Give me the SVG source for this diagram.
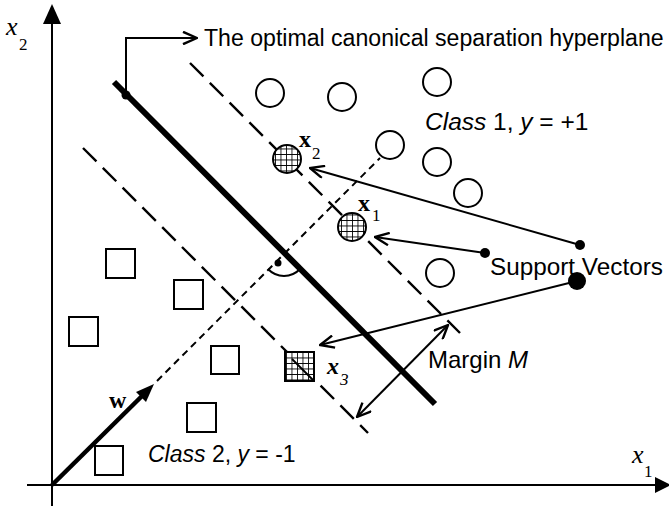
<svg xmlns="http://www.w3.org/2000/svg" width="669" height="506" viewBox="0 0 669 506">
<style>
.ln{stroke:#000;stroke-width:2;fill:none}
.c1{fill:#fff;stroke:#000;stroke-width:2}
.sq{fill:#fff;stroke:#000;stroke-width:2}
.hatch{fill:url(#grid);stroke:#000;stroke-width:2}
.sans{font-family:"Liberation Sans",Arial,sans-serif;fill:#000}
.ser{font-family:"Liberation Serif","Times New Roman",serif;fill:#000}
.dash{stroke:#000;stroke-width:2.4;stroke-dasharray:19 9;fill:none}
.sdash{stroke:#000;stroke-width:2;stroke-dasharray:7 5;fill:none}
</style>
<defs>
<pattern id="grid" patternUnits="userSpaceOnUse" width="5.5" height="5.5">
<rect width="5.5" height="5.5" fill="#fff"/>
<path d="M0,0 V5.5 M0,0 H5.5" stroke="#000" stroke-width="1.7"/>
</pattern>
<marker id="open" viewBox="0 0 16 14" refX="15" refY="7" markerWidth="16" markerHeight="14" markerUnits="userSpaceOnUse" orient="auto-start-reverse">
<path d="M1,0.8 L15,7 L1,13.2" fill="none" stroke="#000" stroke-width="2.4"/>
</marker>
</defs>

<!-- axes -->
<g id="axes">
<line x1="52" y1="20" x2="52" y2="506" class="ln"/>
<polygon points="52,4 43,24 61,24" fill="#000"/>
<line x1="27" y1="485" x2="658" y2="485" class="ln"/>
<polygon points="671,485 655,477 655,493" fill="#000"/>
<text class="ser" x="6" y="35" font-size="26" font-style="italic">x</text>
<text class="ser" x="19" y="50" font-size="17">2</text>
<text class="ser" x="632" y="463" font-size="26" font-style="italic">x</text>
<text class="ser" x="644" y="477" font-size="17">1</text>
</g>

<!-- margin lines and hyperplane -->
<g id="margins">
<line x1="190" y1="63" x2="460" y2="333" class="dash"/>
<line x1="83" y1="148" x2="368" y2="433" class="dash"/>
</g>
<g id="hyperplane">
<line x1="114" y1="82" x2="435" y2="404" stroke="#000" stroke-width="6"/>
<path d="M268,269 A22,22 0 0 0 300,269" class="ln"/>
<circle cx="278" cy="263" r="3.5" fill="#000"/>
</g>

<!-- class 1 circles -->
<g id="class1">
<circle cx="270" cy="93" r="14" class="c1"/>
<circle cx="342" cy="97" r="14" class="c1"/>
<circle cx="437" cy="82" r="14" class="c1"/>
<circle cx="390" cy="145" r="14" class="c1"/>
<circle cx="437" cy="162" r="14" class="c1"/>
<circle cx="468" cy="193" r="14" class="c1"/>
<circle cx="440" cy="273" r="14" class="c1"/>
<text class="sans" x="425" y="130" font-size="24.5"><tspan font-style="italic">Class</tspan> 1, <tspan font-style="italic">y</tspan> = +1</text>
</g>

<!-- class 2 squares -->
<g id="class2">
<rect x="106" y="249" width="29" height="29" class="sq"/>
<rect x="174" y="280" width="29" height="29" class="sq"/>
<rect x="69" y="317" width="29" height="29" class="sq"/>
<rect x="211" y="346" width="28" height="28" class="sq"/>
<rect x="187" y="403" width="29" height="29" class="sq"/>
<rect x="95" y="446" width="28" height="29" class="sq"/>
<text class="sans" x="148" y="462" font-size="23"><tspan font-style="italic">Class</tspan> 2, <tspan font-style="italic">y</tspan> = -1</text>
</g>

<!-- support vectors -->
<g id="x2">
<circle cx="287" cy="159" r="14" class="hatch"/>
<text class="ser" x="299" y="147" font-size="24" font-weight="bold">x</text>
<text class="ser" x="312" y="159" font-size="17">2</text>
</g>
<g id="x1">
<circle cx="352" cy="227" r="14" class="hatch"/>
<text class="ser" x="358" y="211" font-size="24" font-weight="bold">x</text>
<text class="ser" x="372" y="221" font-size="17">1</text>
</g>
<g id="x3">
<rect x="285" y="352" width="29" height="29" class="hatch"/>
<line x1="292" y1="359" x2="314" y2="381" stroke="#000" stroke-width="2"/>
<text class="ser" x="327" y="374" font-size="24" font-weight="bold" font-style="italic">x</text>
<text class="ser" x="340" y="385" font-size="17" font-style="italic">3</text>
</g>

<!-- labels -->
<g id="label-hyperplane">
<text class="sans" x="204" y="46" font-size="23.1">The optimal canonical separation hyperplane</text>
</g>
<g id="label-sv">
<text class="sans" x="490" y="275" font-size="24.3">Support Vectors</text>
</g>
<g id="label-margin">
<text class="sans" x="428" y="368" font-size="24">Margin <tspan font-style="italic">M</tspan></text>
</g>
<g id="label-w">
<text class="ser" x="109" y="408" font-size="24" font-weight="bold">w</text>
</g>

<!-- connectors -->
<g id="connectors">
<polyline points="126,95 126,38 197,38" class="ln" marker-end="url(#open)"/>
<circle cx="126" cy="95" r="4.5" fill="#000"/>
<line x1="580" y1="245" x2="310" y2="168" class="ln" marker-end="url(#open)"/>
<circle cx="580" cy="245" r="5" fill="#000"/>
<line x1="485" y1="253" x2="375" y2="237" class="ln" marker-end="url(#open)"/>
<circle cx="485" cy="253" r="5" fill="#000"/>
<line x1="577" y1="281" x2="320" y2="345" class="ln" marker-end="url(#open)"/>
<circle cx="577" cy="281" r="9" fill="#000"/>
<line x1="448" y1="325" x2="357" y2="417" class="ln" marker-start="url(#open)" marker-end="url(#open)"/>
<line x1="52" y1="485" x2="142" y2="396" stroke="#000" stroke-width="4.5"/>
<polygon points="154,384 146,402 136,392" fill="#000"/>
<line x1="157" y1="381" x2="380" y2="158" class="sdash"/>
</g>
</svg>
